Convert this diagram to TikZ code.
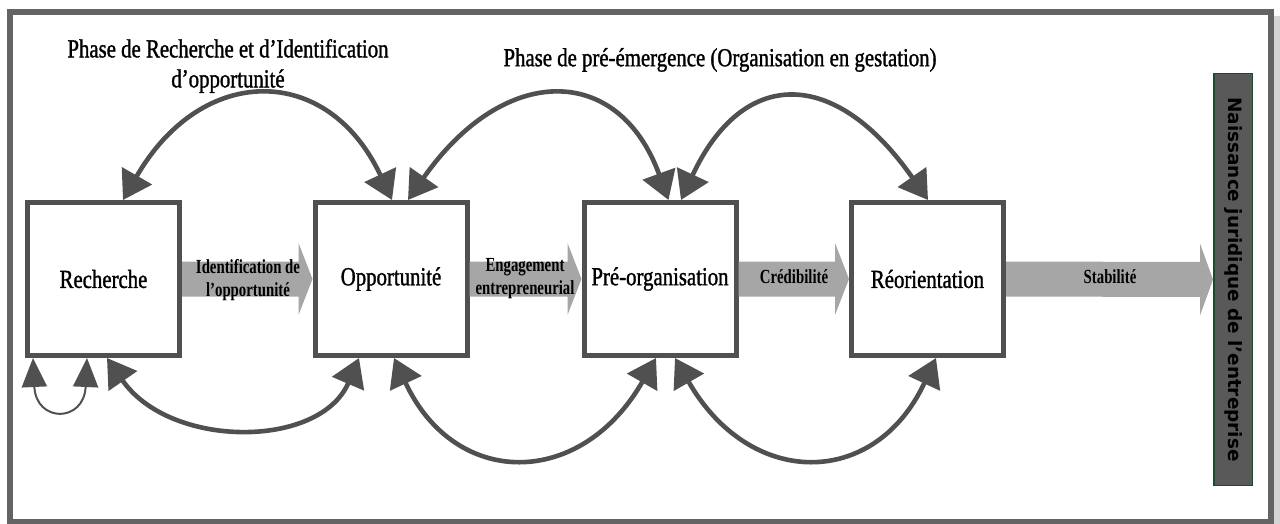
\documentclass[tikz,border=0pt]{standalone}
\usepackage{fontspec}
\usepackage{graphicx}
\setmainfont{Liberation Serif}
\newfontfamily\serc[FakeStretch=0.8,FakeBold=1.2]{Liberation Serif}
\newfontfamily\sercb[FakeStretch=0.74]{Liberation Serif Bold}
\newfontfamily\barfont{DejaVu Sans}
\usetikzlibrary{arrows.meta,calc}
\definecolor{dg}{HTML}{505050}
\definecolor{fatgray}{HTML}{A6A6A6}
\definecolor{framegray}{HTML}{646464}
\definecolor{shadowgray}{HTML}{D4D4D4}
\definecolor{barfill}{HTML}{595959}
\definecolor{bargreen}{HTML}{1E4A2C}
\begin{document}
\begin{tikzpicture}[x=0.5pt,y=-0.5pt,
  stage/.style={draw=dg,line width=2.5pt,fill=white,minimum width=76pt,minimum height=76.5pt,inner sep=0pt,font=\serc\fontsize{13}{15}\selectfont},
  title/.style={font=\serc\fontsize{13}{15}\selectfont,align=center,inner sep=0pt},
  fat/.style={fill=fatgray},
  fatlabel/.style={font=\sercb\fontsize{10}{11.5}\selectfont,align=center,inner sep=0pt},
  arc/.style={draw=dg,line width=2.3pt,{Triangle[length=14pt,width=17pt]}-{Triangle[length=14pt,width=17pt]}},
  loopline/.style={draw=dg,line width=1pt,{Triangle[length=14.5pt,width=12.5pt]}-{Triangle[length=14.5pt,width=12.5pt]}},
  bar/.style={fill=barfill,draw=bargreen,line width=0.75pt,minimum width=19.25pt,minimum height=205.75pt,inner sep=0pt,font=\barfont\bfseries\fontsize{9.2}{11}\selectfont}
]
\useasboundingbox (0,0) rectangle (1280,524);
\fill[white] (0,0) rectangle (1280,524);
\fill[shadowgray] (1274,16) rectangle (1280,524);
\draw[framegray,line width=3pt] (10,12) rectangle (1271,522);

% titles
\node[title] (t1) at (228,66) {Phase de Recherche et d’Identification\\d’opportunité};
\node[title] (t2) at (720,60) {Phase de pré-émergence (Organisation en gestation)};

% stages
\node[stage] (rech) at (103.5,279) {Recherche};
\node[stage] (opp)  at (391,279)   {Opportunité};
\node[stage] (pre)  at (660,279)   {Pré-organisation};
\node[stage] (reo)  at (927.5,279) {Réorientation};
\node[bar]   (bar)  at (1233,279.5) {\rotatebox{-90}{Naissance juridique de l’entreprise}};

% fat arrows
\fill[fat] ($(rech.east)+(0,-17.5)$) -- ($(opp.west)+(-14,-17.5)$) -- ($(opp.west)+(-14,-36)$) -- (opp.west)
  -- ($(opp.west)+(-14,36)$) -- ($(opp.west)+(-14,17.5)$) -- ($(rech.east)+(0,17.5)$) -- cycle;
\fill[fat] ($(opp.east)+(0,-17.5)$) -- ($(pre.west)+(-14,-17.5)$) -- ($(pre.west)+(-14,-36)$) -- (pre.west)
  -- ($(pre.west)+(-14,36)$) -- ($(pre.west)+(-14,17.5)$) -- ($(opp.east)+(0,17.5)$) -- cycle;
\fill[fat] ($(pre.east)+(0,-17.5)$) -- ($(reo.west)+(-14,-17.5)$) -- ($(reo.west)+(-14,-36)$) -- (reo.west)
  -- ($(reo.west)+(-14,36)$) -- ($(reo.west)+(-14,17.5)$) -- ($(pre.east)+(0,17.5)$) -- cycle;
\fill[fat] ($(reo.east)+(0,-17.5)$) -- ($(bar.west)+(-13,-17.5)$) -- ($(bar.west)+(-13,-36)$) -- (bar.west)
  -- ($(bar.west)+(-13,36)$) -- ($(bar.west)+(-13,17.5)$) -- ($(reo.east)+(0,17.5)$) -- cycle;

\node[fatlabel] (l1) at (248,280) {Identification de\\l’opportunité};
\node[fatlabel] (l2) at (525,279) {Engagement\\entrepreneurial};
\node[fatlabel] (l3) at (794,277) {Crédibilité};
\node[fatlabel] (l4) at (1110,277) {Stabilité};

% top arcs
\draw[arc] ($(rech.north)+(19.5,0)$) .. controls +(79,-137) and +(-64,-137) .. ($(opp.north)+(1,0)$);
\draw[arc] ($(opp.north)+(17,0)$) .. controls +(96,-137) and +(-50,-137) .. ($(pre.north)+(8.5,0)$);
\draw[arc] ($(pre.north)+(21,0)$) .. controls +(62,-133) and +(-93,-133) .. ($(reo.north)+(0.5,0)$);

% bottom arcs
\draw[loopline] ($(rech.south)+(-70.5,0)$) .. controls +(3,65) and +(-3,65) .. ($(rech.south)+(-16.5,0)$);
\draw[arc] ($(rech.south)+(3.5,0)$) .. controls +(63,91) and +(-39,91) .. ($(opp.south)+(-32,0)$);
\draw[arc] ($(opp.south)+(3,0)$) .. controls +(61,131) and +(-75,131) .. ($(pre.south)+(-4,0)$);
\draw[arc] ($(pre.south)+(15,0)$) .. controls +(75,131) and +(-61,131) .. ($(reo.south)+(8.5,0)$);
\end{tikzpicture}
\end{document}
